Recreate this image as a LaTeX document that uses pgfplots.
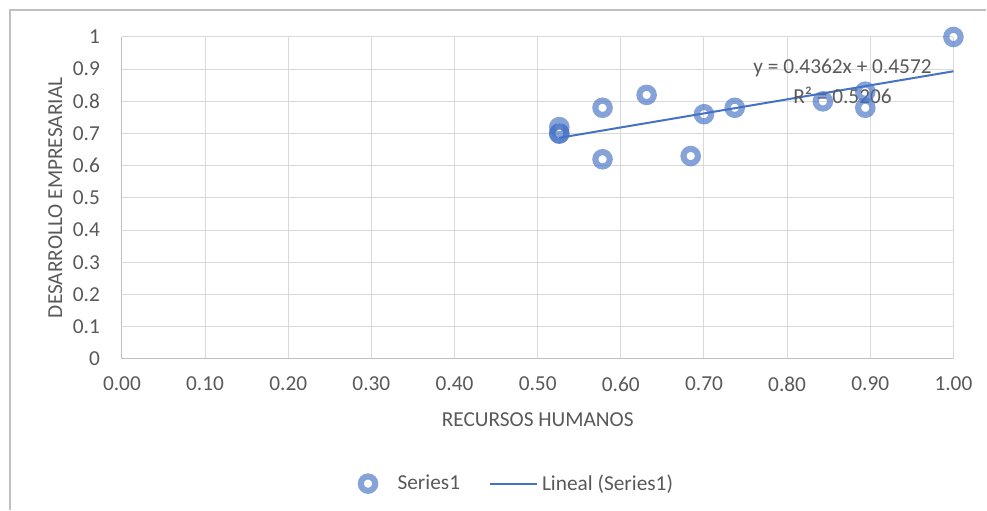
\documentclass[border=0pt]{standalone}
\usepackage{fontspec}
\setmainfont{Carlito}
\usepackage{pgfplots}
\pgfplotsset{compat=1.18}
\definecolor{txt}{HTML}{595959}
\definecolor{gridc}{HTML}{D9D9D9}
\definecolor{axc}{HTML}{BFBFBF}
\definecolor{xblue}{HTML}{4472C4}
\pgfplotsset{
  ringleg/.style={legend image code/.code={\path (-6pt,0pt) (20pt,0pt); \draw[##1] plot coordinates {(0pt,0pt)};}},
  lineleg/.style={legend image code/.code={\draw[xblue, line width=1.5pt] (0pt,0pt) -- (35pt,0pt); \path (36pt,0pt);}},
}
\begin{document}
\begin{tikzpicture}
\begin{axis}[
  scale only axis,
  width=624pt, height=241.5pt,
  xmin=0, xmax=1, ymin=0, ymax=1,
  xtick={0,0.1,...,1.0001},
  ytick={0,0.1,...,1.0001},
  axis line style={draw=none},
  grid=major,
  major grid style={gridc, line width=0.75pt},
  tick style={draw=none},
  font=\fontsize{16pt}{19pt}\selectfont,
  tick label style={txt},
  /pgf/number format/assume math mode=true,
  xticklabel style={/pgf/number format/.cd, fixed, fixed zerofill, precision=2},
  yticklabel style={/pgf/number format/.cd, fixed, precision=1},
  xticklabel shift=10pt,
  yticklabel shift=13pt,
  xlabel={RECURSOS HUMANOS},
  ylabel={DESARROLLO EMPRESARIAL},
  xlabel style={txt, at={(0.5,-0.19)}, anchor=center},
  ylabel style={txt, at={(-0.08,0.5)}, anchor=center},
  legend columns=2,
  legend style={at={(0.476,-0.388)}, anchor=center, draw=none, fill=none,
    text=txt, font=\fontsize{16pt}{19pt}\selectfont,
    /tikz/every even column/.append style={column sep=20pt}},
  legend cell align=left,
  clip=false,
]
\draw[axc, line width=0.75pt] (rel axis cs:0,1) -- (rel axis cs:0,0) -- (rel axis cs:1,0);
\addplot[only marks, mark=o, mark size=5.4pt,
  mark options={draw=xblue, line width=4.6pt, draw opacity=0.65}, ringleg]
  coordinates {
  (0.526,0.72) (0.526,0.70) (0.526,0.70) (0.578,0.78) (0.578,0.62)
  (0.631,0.82) (0.684,0.63) (0.700,0.76) (0.737,0.78) (0.843,0.80)
  (0.894,0.83) (0.894,0.78) (1.000,1.00)
  };
\addlegendentry{Series1}
\addplot[draw=xblue, line width=1.5pt, no marks, lineleg]
  coordinates {(0.526,0.6866) (1.0,0.8934)};
\addlegendentry{Lineal (Series1)}
\node[txt, font=\fontsize{16pt}{19pt}\selectfont] at (axis cs:0.8666,0.904) {y = 0.4362x + 0.4572};
\node[txt, font=\fontsize{16pt}{19pt}\selectfont] at (axis cs:0.8666,0.820) {R² = 0.5206};
\end{axis}
\draw[axc, line width=0.9pt] (-84pt,-113.25pt) -- (-84pt,261.75pt) -- (648.75pt,261.75pt);
\path[use as bounding box] (-91.5pt,-113.25pt) rectangle (648.75pt,269.25pt);
\end{tikzpicture}
\end{document}
